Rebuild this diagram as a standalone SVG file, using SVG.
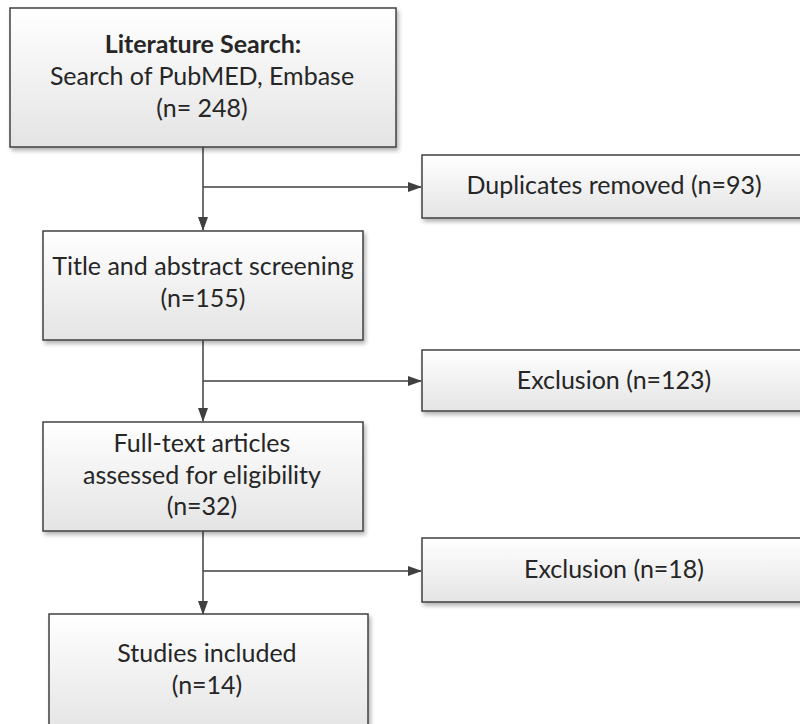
<svg xmlns="http://www.w3.org/2000/svg" width="800" height="724" viewBox="0 0 800 724">
<defs>
<linearGradient id="g" x1="0" y1="0" x2="0" y2="1">
<stop offset="0" stop-color="#ffffff"/>
<stop offset="1" stop-color="#e4e4e4"/>
</linearGradient>
<filter id="sh" x="-5%" y="-5%" width="112%" height="120%">
<feGaussianBlur in="SourceAlpha" stdDeviation="2"/>
<feOffset dx="2" dy="3" result="b"/>
<feComponentTransfer><feFuncA type="linear" slope="0.3"/></feComponentTransfer>
<feMerge><feMergeNode/><feMergeNode in="SourceGraphic"/></feMerge>
</filter>
<marker id="ah" markerWidth="14" markerHeight="10" refX="13" refY="5" orient="auto" markerUnits="userSpaceOnUse">
<path d="M0,0 L14,5 L0,10 Z" fill="#404040"/>
</marker>
</defs>
<style>
.box{fill:url(#g);stroke:#404040;stroke-width:1.5;filter:url(#sh)}
.t{font-family:Lato,"Liberation Sans",sans-serif;font-size:25px;fill:#262626;text-anchor:middle}
.b{font-weight:bold}
.c{stroke:#404040;stroke-width:1.5;fill:none}
</style>
<rect width="800" height="724" fill="#ffffff"/>
<g id="connectors">
<line class="c" x1="203" y1="147" x2="203" y2="230" marker-end="url(#ah)"/>
<line class="c" x1="203" y1="187" x2="421" y2="187" marker-end="url(#ah)"/>
<line class="c" x1="203" y1="340" x2="203" y2="421" marker-end="url(#ah)"/>
<line class="c" x1="203" y1="381" x2="421" y2="381" marker-end="url(#ah)"/>
<line class="c" x1="203" y1="531" x2="203" y2="614" marker-end="url(#ah)"/>
<line class="c" x1="203" y1="571" x2="421" y2="571" marker-end="url(#ah)"/>
</g>
<g id="search">
<rect class="box" x="10" y="8" width="386" height="139"/>
<text class="t b" x="203" y="53">Literature Search:</text>
<text class="t" x="202" y="85">Search of PubMED, Embase</text>
<text class="t" x="202" y="117">(n= 248)</text>
</g>
<g id="duplicates">
<rect class="box" x="422" y="155" width="382" height="63"/>
<text class="t" x="614" y="194">Duplicates removed (n=93)</text>
</g>
<g id="screening">
<rect class="box" x="43" y="231" width="320" height="109"/>
<text class="t" x="203" y="275">Title and abstract screening</text>
<text class="t" x="203" y="307">(n=155)</text>
</g>
<g id="exclusion1">
<rect class="box" x="422" y="350" width="382" height="61"/>
<text class="t" x="614" y="389">Exclusion (n=123)</text>
</g>
<g id="fulltext">
<rect class="box" x="43" y="422" width="320" height="109"/>
<text class="t" x="202" y="452">Full-text articles</text>
<text class="t" x="202" y="484">assessed for eligibility</text>
<text class="t" x="202" y="515">(n=32)</text>
</g>
<g id="exclusion2">
<rect class="box" x="422" y="538" width="382" height="64"/>
<text class="t" x="614" y="578">Exclusion (n=18)</text>
</g>
<g id="included">
<rect class="box" x="49" y="614" width="319" height="120"/>
<text class="t" x="207" y="662">Studies included</text>
<text class="t" x="207" y="694">(n=14)</text>
</g>
</svg>
